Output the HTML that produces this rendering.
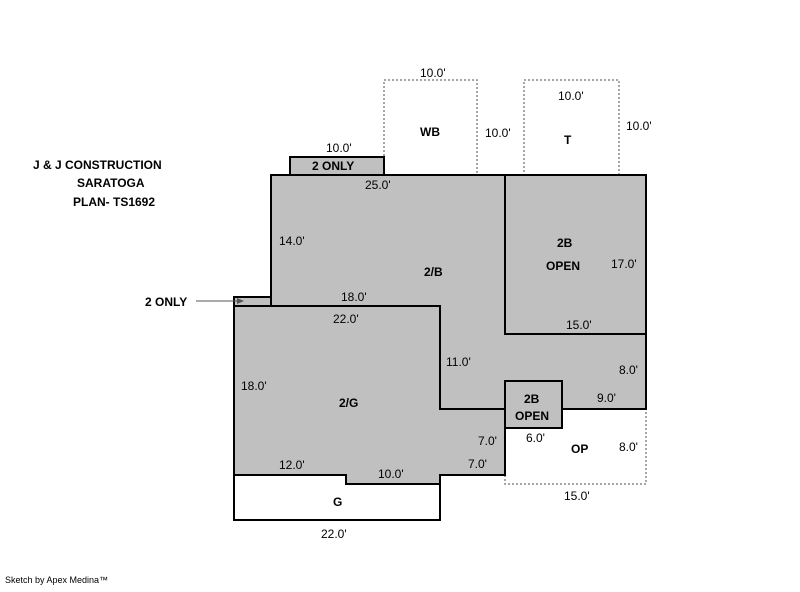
<!DOCTYPE html>
<html><head><style>
body{margin:0;background:#fff;}
svg text{font-family:"Liberation Sans",Arial,sans-serif;font-size:12px;fill:#000;}
.b{font-weight:bold;}
</style></head><body>
<svg width="800" height="587" viewBox="0 0 800 587" xmlns="http://www.w3.org/2000/svg">
<g fill="none" stroke="#888" stroke-width="1.5" stroke-dasharray="2,2">
<rect x="384" y="80" width="93" height="95"/>
<rect x="524" y="80" width="95" height="95"/>
<rect x="505" y="409" width="141" height="75"/>
</g>
<g stroke="#000" stroke-width="2" fill="#c0c0c0">
<rect x="290" y="157" width="94" height="18"/>
<rect x="234" y="297" width="37" height="9"/>
<polygon points="271,175 646,175 646,409 440,409 440,306 271,306"/>
<polygon points="234,306 440,306 440,409 505,409 505,475 440,475 440,484 346,484 346,475 234,475"/>
<rect x="505" y="175" width="141" height="159"/>
<rect x="505" y="381" width="57" height="47"/>
<polygon points="234,475 346,475 346,484 440,484 440,520 234,520" fill="#fff"/>
</g>
<line x1="196" y1="301" x2="240" y2="301" stroke="#555" stroke-width="1"/>
<polygon points="244,301 237,298 237,304" fill="#555"/>
<text x="33" y="169" class="b">J &amp; J CONSTRUCTION</text>
<text x="77" y="187" class="b">SARATOGA</text>
<text x="73" y="206" class="b">PLAN- TS1692</text>
<text x="145" y="306" class="b">2 ONLY</text>
<text x="420" y="77">10.0'</text>
<text x="420" y="136" class="b">WB</text>
<text x="485" y="137">10.0'</text>
<text x="558" y="100">10.0'</text>
<text x="564" y="144" class="b">T</text>
<text x="626" y="130">10.0'</text>
<text x="326" y="152">10.0'</text>
<text x="312" y="170" class="b">2 ONLY</text>
<text x="365" y="189">25.0'</text>
<text x="279" y="245">14.0'</text>
<text x="424" y="276" class="b">2/B</text>
<text x="557" y="247" class="b">2B</text>
<text x="546" y="270" class="b">OPEN</text>
<text x="611" y="268">17.0'</text>
<text x="341" y="301">18.0'</text>
<text x="333" y="323">22.0'</text>
<text x="566" y="329">15.0'</text>
<text x="446" y="366">11.0'</text>
<text x="619" y="374">8.0'</text>
<text x="241" y="390">18.0'</text>
<text x="339" y="407" class="b">2/G</text>
<text x="524" y="403" class="b">2B</text>
<text x="515" y="420" class="b">OPEN</text>
<text x="597" y="402">9.0'</text>
<text x="478" y="445">7.0'</text>
<text x="526" y="442">6.0'</text>
<text x="571" y="453" class="b">OP</text>
<text x="619" y="451">8.0'</text>
<text x="279" y="469">12.0'</text>
<text x="378" y="478">10.0'</text>
<text x="468" y="468">7.0'</text>
<text x="564" y="500">15.0'</text>
<text x="333" y="506" class="b">G</text>
<text x="321" y="538">22.0'</text>
<text x="5" y="583" style="font-size:9px">Sketch by Apex Medina™</text>
</svg>
</body></html>
